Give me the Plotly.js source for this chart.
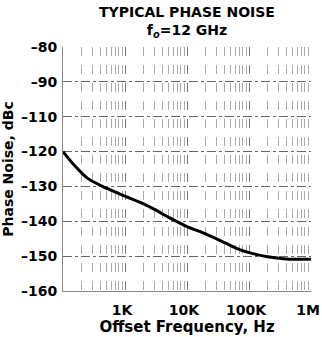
<!DOCTYPE html>
<html>
<head>
<meta charset="utf-8">
<script src="https://cdn.plot.ly/plotly-3.0.1.min.js"></script>
<style>html,body{margin:0;padding:0;background:#fff;}#chart{width:322px;height:337px;}</style>
</head>
<body>
<div id="chart"></div>
<script>
// Offset frequency (Hz) and phase noise (dBc)
const freqHz = [100, 150, 250, 500, 1000, 2000, 3000, 5000, 10000, 20000, 35000, 60000, 100000, 200000, 400000, 1000000];
const phaseNoise = [-120, -123.8, -127.7, -130.5, -132.8, -135, -136.6, -138.8, -141.5, -143.6, -145.6, -147.6, -149, -150.2, -150.8, -150.9];

const xTickVals = [1000, 10000, 100000, 1000000];
const xTickText = ["1K", "10K", "100K", "1M"];
const yTickVals = [-160, -150, -140, -130, -120, -110, -100, -90];
const yTickText = ["\u2013160", "\u2013150", "\u2013140", "\u2013130", "\u2013120", "\u2013110", "\u201390", "\u201380"];

const font = "DejaVu Sans, Liberation Sans, Arial, sans-serif";

const trace = {
  x: freqHz, y: phaseNoise, type: "scatter", mode: "lines",
  line: {color: "#000", width: 3, shape: "spline", smoothing: 0.8},
  hoverinfo: "skip"
};

const layout = {
  width: 322, height: 337,
  margin: {l: 63, r: 11, t: 47, b: 46},
  paper_bgcolor: "#fff", plot_bgcolor: "#fff",
  showlegend: false,
  title: {
    text: "<b>TYPICAL PHASE NOISE</b><br><b>f<sub><i>o</i></sub>=12 GHz</b>",
    font: {family: font, size: 14, color: "#000"},
    xref: "paper", x: 0.5, xanchor: "center", yref: "container", y: 0.95, yanchor: "middle"
  },
  xaxis: {
    type: "log", range: [2, 6],
    tickvals: xTickVals, ticktext: xTickText,
    tickfont: {family: font, size: 14, color: "#000", weight: "bold"},
    ticks: "", ticklabelstandoff: 6, ticklabelshift: -3, ticklabeloverflow: "allow",
    showline: true, linecolor: "#888", linewidth: 1, mirror: false,
    showgrid: true, gridcolor: "#777", gridwidth: 1, griddash: "dash",
    minor: {dtick: "D1", showgrid: true, gridcolor: "#aaa", gridwidth: 1, griddash: "dash", ticks: ""},
    zeroline: false,
    title: {text: "<b>Offset Frequency, Hz</b>", font: {family: font, size: 15, color: "#000"}, standoff: 4}
  },
  yaxis: {
    range: [-160, -90],
    tickvals: yTickVals, ticktext: yTickText,
    tickfont: {family: font, size: 14, color: "#000", weight: "bold"},
    ticks: "", ticklabelstandoff: 2,
    showline: true, linecolor: "#888", linewidth: 1, mirror: false,
    showgrid: true, gridcolor: "#666", gridwidth: 1, griddash: "dashdot",
    zeroline: false,
    title: {text: "<b>Phase Noise, dBc</b>", font: {family: font, size: 14, color: "#000"}, standoff: 4}
  }
};

Plotly.newPlot("chart", [trace], layout, {displayModeBar: false, staticPlot: true});
</script>
</body>
</html>
